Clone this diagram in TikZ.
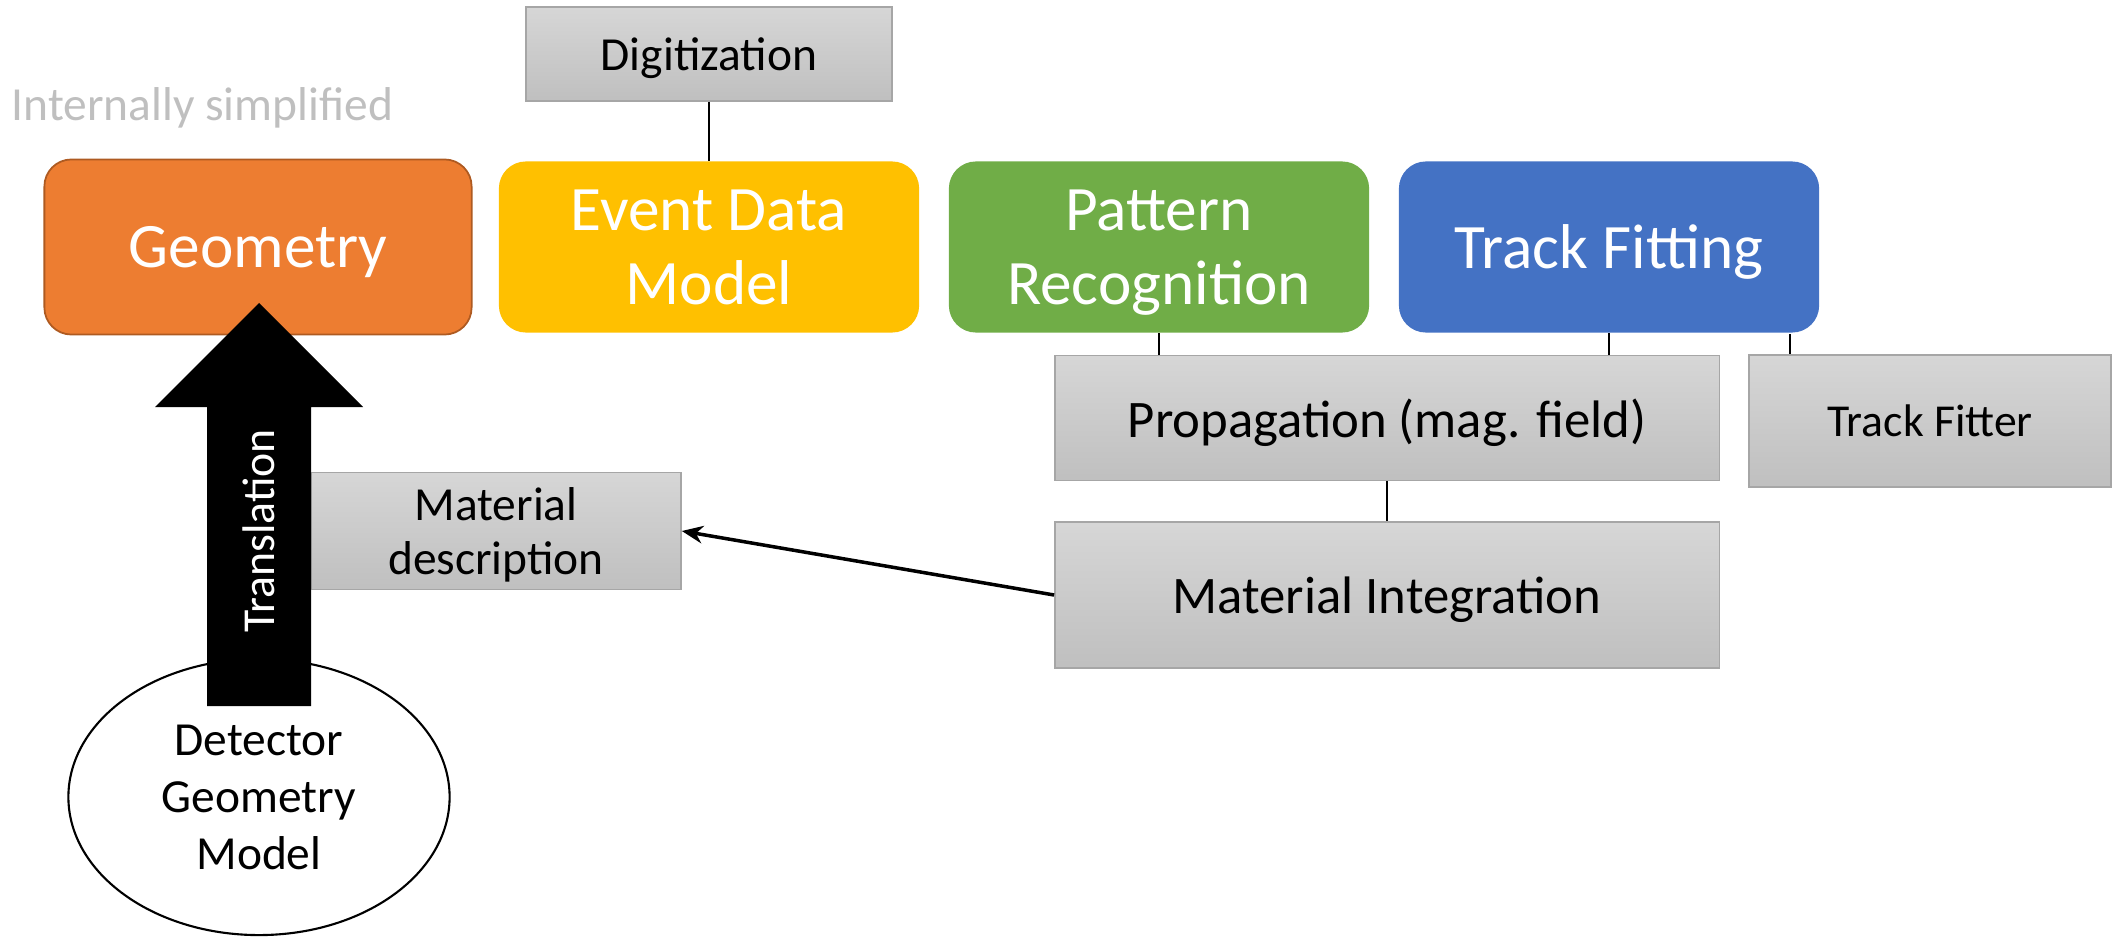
\documentclass[tikz,border=0pt]{standalone}
\usepackage{fontspec}
\setmainfont{Carlito}
\usetikzlibrary{arrows.meta,shapes.geometric}

\definecolor{geoorange}{HTML}{ED7D31}
\definecolor{geoborder}{HTML}{AE5A21}
\definecolor{edmyellow}{HTML}{FFC000}
\definecolor{prgreen}{HTML}{70AD47}
\definecolor{tfblue}{HTML}{4472C4}

\begin{document}
\begin{tikzpicture}[x=0.01cm,y=-0.01cm,
  block/.style={rounded corners=2.7mm,inner sep=0pt,text depth=0pt,minimum width=4.2cm,minimum height=1.71cm,text=white,align=center,font=\fontsize{18}{21}\selectfont},
  sub/.style={draw=black!35,line width=0.4pt,top color=black!16,bottom color=black!25,inner sep=0pt,text depth=0pt,align=center,font=\fontsize{15}{18}\selectfont},
  link/.style={line width=0.6pt}]
\useasboundingbox (0,0) rectangle (2113,937);
% Label
\node[anchor=west,inner sep=0pt,text=black!25,font=\fontsize{13.5}{16}\selectfont](simp) at (11,108){Internally simplified};
% Main blocks
\node[block,fill=geoorange,draw=geoborder,line width=0.5pt,minimum width=4.27cm,minimum height=1.75cm](geo) at (258,247){Geometry};
\node[block,fill=edmyellow](edm) at (709,247){Event Data\\Model};
\node[block,fill=prgreen](pr) at (1159,247){Pattern\\Recognition};
\node[block,fill=tfblue](tf) at (1609,247){Track Fitting};
% Sub-components
\node[sub,minimum width=3.66cm,minimum height=0.94cm,font=\fontsize{13.5}{16}\selectfont](digi) at (709,54){Digitization};
\node[sub,minimum width=6.64cm,minimum height=1.25cm](prop) at (1387,418){Propagation (mag. field)};
\node[sub,minimum width=3.62cm,minimum height=1.32cm,font=\fontsize{13}{16}\selectfont](fitter) at (1930,421){Track Fitter};
\node[sub,minimum width=6.64cm,minimum height=1.46cm](matint) at (1387,595){Material Integration};
\node[sub,minimum width=3.7cm,minimum height=1.17cm,font=\fontsize{13.5}{15.4}\selectfont](matdesc) at (496,531){Material\\description};
% Connections
\coordinate (tfdrop) at (1790,334);
\draw[link] (digi) -- (edm);
\draw[link] (pr.south) -- (pr.south |- prop.north);
\draw[link] (tf.south) -- (tf.south |- prop.north);
\draw[link] (tfdrop) -- (tfdrop |- fitter.north);
\draw[link] (prop) -- (matint);
\draw[-{Stealth[length=6pt,width=5pt]},line width=1pt] (matint.west) -- (matdesc.east);
% Detector model and translation
\node[draw,ellipse,line width=0.6pt,inner sep=0pt,minimum width=3.81cm,minimum height=2.76cm,align=center,font=\fontsize{13.5}{16.2}\selectfont](dgm) at (259,797){Detector\\Geometry\\Model};
\fill (207,706) -- (207,407) -- (155,407) -- (259,303) -- (363,407) -- (311,407) -- (311,706) -- cycle;
\node[rotate=90,text=white,font=\fontsize{13}{15}\selectfont](transl) at (259,531){Translation};
\end{tikzpicture}
\end{document}
